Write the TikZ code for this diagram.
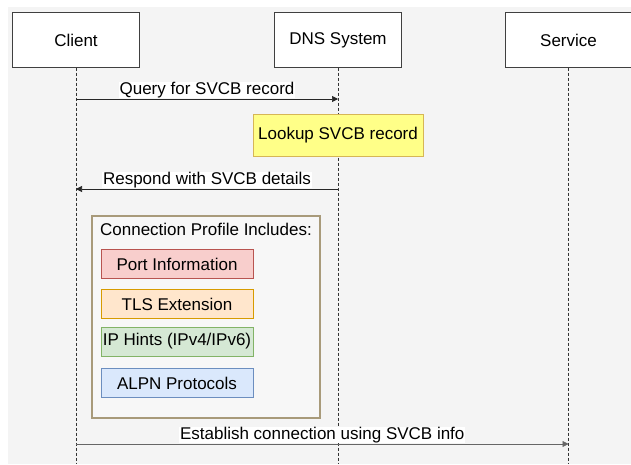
\documentclass[tikz,border=0pt]{standalone}
\usepackage{fontspec}
\setmainfont{Liberation Sans}
\usetikzlibrary{arrows.meta}
\definecolor{bgc}{HTML}{F4F4F4}
\definecolor{boxc}{HTML}{F7F7F7}
\definecolor{tanc}{HTML}{A89A7A}
\definecolor{yelf}{HTML}{FFFF88}
\definecolor{yeld}{HTML}{D6B656}
\definecolor{redf}{HTML}{F8CECC}
\definecolor{redd}{HTML}{B85450}
\definecolor{orf}{HTML}{FFE6CC}
\definecolor{ord}{HTML}{D79B00}
\definecolor{grf}{HTML}{D5E8D4}
\definecolor{grd}{HTML}{82B366}
\definecolor{blf}{HTML}{DAE8FC}
\definecolor{bld}{HTML}{6C8EBF}
\definecolor{arrg}{HTML}{666666}
\tikzset{
  x=1pt, y=-1pt,
  every node/.style={font=\fontsize{17}{20}\selectfont, text=black},
  actor/.style={draw=black!75, fill=white, minimum width=127pt, minimum height=55pt, inner sep=0pt},
  lifeline/.style={densely dashed, black!80, line width=0.6pt},
  msg/.style={-{Triangle[length=6pt,width=6pt]}, line width=0.7pt, black!85},
  msggray/.style={-{Triangle[length=6pt,width=6pt]}, line width=0.7pt, arrg},
  lbl/.style={fill=white, inner xsep=1pt, inner ysep=0pt, anchor=south, yshift=0.5pt},
  item/.style={draw=#1, line width=0.7pt, minimum width=152pt, minimum height=29pt, inner sep=0pt},
}
\begin{document}
\begin{tikzpicture}
\useasboundingbox (0,0) rectangle (631,464);
\fill[bgc] (8,7) rectangle (631,464);
% actors
\node[actor] (client) at (76,40) {Client};
\node[actor] (dns) at (338,40) {DNS System};
\node[actor] (svc) at (568.5,40) {Service};
% lifeline ends
\coordinate (cend) at (76,464);
\coordinate (dend) at (338,464);
\coordinate (send) at (568.5,464);
\draw[lifeline] (client.south) -- (cend);
\draw[lifeline] (dns.south) -- (dend);
\draw[lifeline] (svc.south) -- (send);
% message 1
\coordinate (m1a) at (76,99);
\coordinate (m1b) at (338,99);
\draw[msg] (m1a) -- node[lbl] (l1) {Query for SVCB record} (m1b);
% lookup
\node[draw=yeld, fill=yelf, line width=0.7pt, minimum width=170pt, minimum height=42pt, inner sep=0pt] (lookup) at (338,135) {Lookup SVCB record};
% message 2
\coordinate (m2a) at (338,189);
\coordinate (m2b) at (76,189);
\draw[msg] (m2a) -- node[lbl] (l2) {Respond with SVCB details} (m2b);
% container
\node[draw=tanc, fill=boxc, line width=1.2pt, minimum width=228pt, minimum height=202pt, inner sep=0pt] (cont) at (206,317) {};
\node (ctitle) at (206,229) {Connection Profile Includes:};
\node[item=redd, fill=redf] (port) at (177,264) {Port Information};
\node[item=ord, fill=orf] (tls) at (177,304) {TLS Extension};
\node[item=grd, fill=grf] (ip) at (177,341.5) {IP Hints (IPv4/IPv6)};
\node[item=bld, fill=blf] (alpn) at (177,383) {ALPN Protocols};
% message 3
\coordinate (m3a) at (76,444);
\coordinate (m3b) at (568.5,444);
\draw[msggray] (m3a) -- node[lbl] (l3) {Establish connection using SVCB info} (m3b);
\end{tikzpicture}
\end{document}
